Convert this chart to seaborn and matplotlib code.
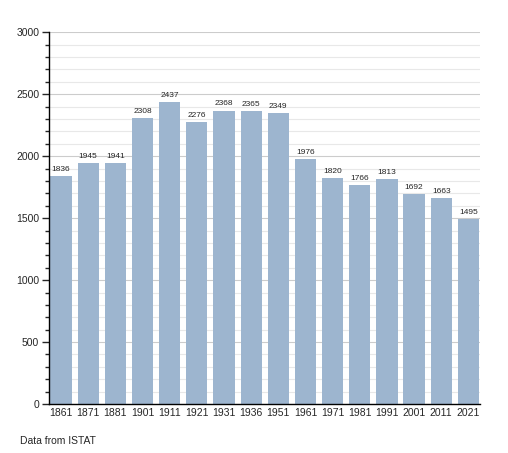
import numpy as np
import pandas as pd
import seaborn as sns
import matplotlib.pyplot as plt
from matplotlib.ticker import MultipleLocator

# Population by census year
years = ['1861', '1871', '1881', '1901', '1911', '1921', '1931', '1936',
         '1951', '1961', '1971', '1981', '1991', '2001', '2011', '2021']
population = [1836, 1945, 1941, 2308, 2437, 2276, 2368, 2365,
              2349, 1976, 1820, 1766, 1813, 1692, 1663, 1495]

df = pd.DataFrame({'year': years, 'population': population})

sns.set_style('white')
plt.rcParams['font.family'] = ['Liberation Sans', 'DejaVu Sans']

fig = plt.figure(figsize=(5.08, 4.53), dpi=100)
ax = fig.add_axes([0.0965, 0.108, 0.848, 0.821])

sns.barplot(data=df, x='year', y='population', color='#9db5cf',
            saturation=1, width=0.78, ax=ax, linewidth=0, edgecolor='none')

for i, v in enumerate(population):
    ax.text(i, v + 25, str(v), ha='center', va='bottom', fontsize=6)

ax.set_ylim(0, 3000)
ax.set_xlim(-0.44, 15.42)
ax.yaxis.set_major_locator(MultipleLocator(500))
ax.yaxis.set_minor_locator(MultipleLocator(100))
ax.set_axisbelow(True)
ax.grid(axis='y', which='major', color='#cccccc', linewidth=0.8)
ax.grid(axis='y', which='minor', color='#e8e8e8', linewidth=0.8)

ax.tick_params(axis='y', which='major', length=5, width=1, labelsize=7.5, pad=2, left=True)
ax.tick_params(axis='y', which='minor', length=3, width=1, left=True)
ax.tick_params(axis='x', length=0, labelsize=7.5, pad=3)

for s in ['top', 'right']:
    ax.spines[s].set_visible(False)
for s in ['left', 'bottom']:
    ax.spines[s].set_color('black')
    ax.spines[s].set_linewidth(1)

ax.set_xlabel('')
ax.set_ylabel('')

fig.text(20 / 508, 1 - 441 / 453, 'Data from ISTAT', fontsize=7.5, va='center')

fig.savefig('out.png', dpi=100)
